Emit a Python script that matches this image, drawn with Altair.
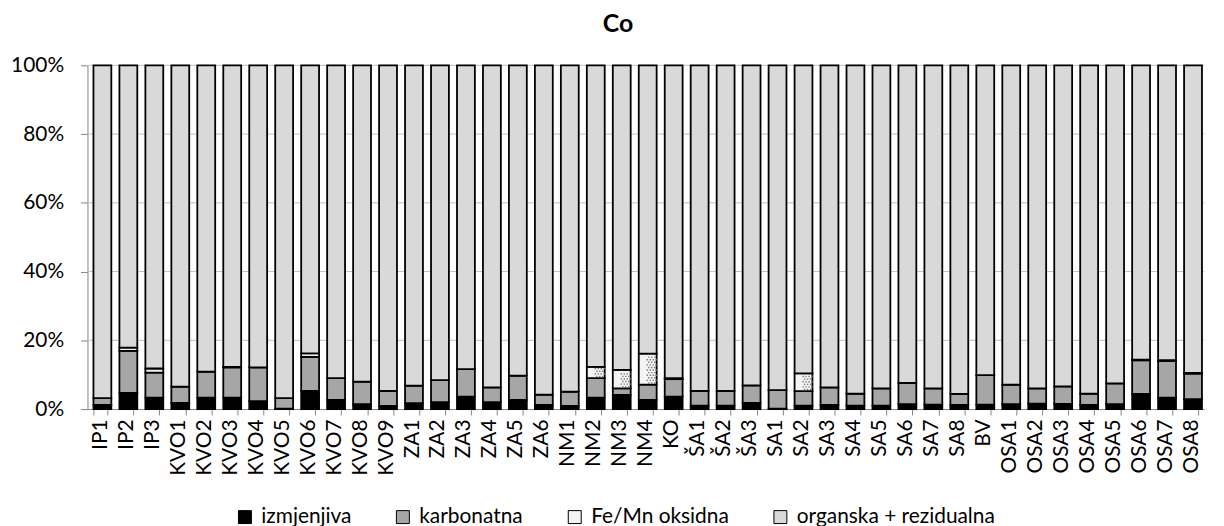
import altair as alt
import pandas as pd

categories = ["IP1", "IP2", "IP3", "KVO1", "KVO2", "KVO3", "KVO4", "KVO5", "KVO6", "KVO7", "KVO8",
              "KVO9", "ZA1", "ZA2", "ZA3", "ZA4", "ZA5", "ZA6", "NM1", "NM2", "NM3", "NM4",
              "KO", "ŠA1", "ŠA2", "ŠA3", "SA1", "SA2", "SA3", "SA4", "SA5", "SA6", "SA7",
              "SA8", "BV", "OSA1", "OSA2", "OSA3", "OSA4", "OSA5", "OSA6", "OSA7", "OSA8"]

izmjenjiva = [1.2, 4.7, 3.3, 1.8, 3.3, 3.3, 2.3, 0.1, 5.3, 2.7, 1.4,
              0.9, 1.7, 2.0, 3.6, 2.0, 2.7, 1.2, 0.9, 3.3, 4.1, 2.7,
              3.6, 1.0, 1.0, 1.8, 0.1, 1.0, 1.2, 1.0, 1.0, 1.4, 1.3,
              1.2, 1.3, 1.4, 1.6, 1.5, 1.2, 1.4, 4.4, 3.3, 2.9]

karbonatna = [2.0, 12.2, 7.3, 4.7, 7.6, 8.8, 9.8, 3.1, 9.9, 6.3, 6.6,
              4.4, 5.1, 6.4, 8.0, 4.3, 7.0, 3.0, 4.2, 5.7, 1.9, 4.4,
              5.1, 4.3, 4.3, 5.1, 5.4, 4.2, 5.1, 3.5, 5.0, 6.2, 4.7,
              3.2, 8.6, 5.7, 4.4, 5.1, 3.3, 6.1, 9.8, 10.7, 7.4]

fe_mn = [0.0, 1.0, 1.2, 0.0, 0.0, 0.2, 0.0, 0.0, 1.0, 0.0, 0.0,
         0.0, 0.0, 0.0, 0.0, 0.0, 0.0, 0.0, 0.0, 3.3, 5.4, 9.0,
         0.3, 0.0, 0.0, 0.0, 0.0, 5.2, 0.0, 0.0, 0.0, 0.0, 0.0,
         0.0, 0.0, 0.0, 0.0, 0.0, 0.0, 0.0, 0.2, 0.2, 0.2]

organska = [96.8, 82.1, 88.2, 93.5, 89.1, 87.7, 87.9, 96.8, 83.8, 91.0, 92.0,
            94.7, 93.2, 91.6, 88.4, 93.7, 90.3, 95.8, 94.9, 87.7, 88.6, 83.9,
            91.0, 94.7, 94.7, 93.1, 94.5, 89.6, 93.7, 95.5, 94.0, 92.4, 94.0,
            95.6, 90.1, 92.9, 94.0, 93.4, 95.5, 92.5, 85.6, 85.8, 89.5]

series_names = ["izmjenjiva", "karbonatna", "Fe/Mn oksidna", "organska + rezidualna"]
series_colors = ["#000000", "#a6a6a6", "#f4f4f4", "#d9d9d9"]
grid_values = [0.2, 0.4, 0.6, 0.8, 1.0]
tick_values = [0.0, 0.1, 0.2, 0.3, 0.4, 0.5, 0.6, 0.7, 0.8, 0.9, 1.0]

rows = []
for s_idx, (name, vals) in enumerate(zip(series_names, [izmjenjiva, karbonatna, fe_mn, organska])):
    for c, v in zip(categories, vals):
        rows.append({"uzorak": c, "frakcija": name, "vrijednost": v, "red": s_idx})
df = pd.DataFrame(rows)

FONT = "Lato"
FS = 21

x_enc = alt.X("uzorak:N", sort=categories, title=None,
              scale=alt.Scale(paddingInner=0.46, paddingOuter=0.23),
              axis=alt.Axis(labelAngle=-90, labelFontSize=FS, labelFont=FONT, labelColor="#000000",
                            tickBand="extent", tickSize=6, tickColor="#868686",
                            domainColor="#868686", labelPadding=4, grid=False))

bars = alt.Chart(df).mark_bar(stroke="#000000", strokeWidth=1.8).encode(
    x=x_enc,
    y=alt.Y("vrijednost:Q", stack="normalize", title=None,
            scale=alt.Scale(domain=[0, 1]),
            axis=alt.Axis(values=tick_values, grid=False, tickSize=7, tickColor="#868686",
                          domainColor="#868686", labelFontSize=FS, labelFont=FONT,
                          labelColor="#000000", labelPadding=17,
                          labelExpr="round(datum.value*10) % 2 == 0 ? format(datum.value, '.0%') : ''")),
    color=alt.Color("frakcija:N", sort=series_names,
                    scale=alt.Scale(domain=series_names, range=series_colors),
                    legend=alt.Legend(title=None, orient="none", direction="horizontal",
                                      legendX=148, legendY=444, symbolType="square",
                                      symbolSize=170, symbolStrokeColor="#000000",
                                      symbolStrokeWidth=1, labelFontSize=FS, labelFont=FONT,
                                      labelColor="#000000", columnPadding=41, labelLimit=400,
                                      labelOffset=6)),
    order=alt.Order("red:Q", sort="ascending"),
)

# dotted texture for the Fe/Mn segments, derived from the stacked data
dots = alt.Chart(df).transform_stack(
    stack="vrijednost", groupby=["uzorak"], as_=["y0", "y1"], offset="normalize",
    sort=[alt.SortField("red", order="ascending")]
).transform_filter(
    "datum.frakcija == 'Fe/Mn oksidna' && datum.y1 - datum.y0 > 0.015"
).transform_calculate(
    yy="sequence(datum.y0 + 0.005, datum.y1 - 0.004, 0.0075)"
).transform_flatten(["yy"]).transform_calculate(
    rowi="round((datum.yy - datum.y0) / 0.0075)",
).transform_calculate(
    xo="datum.rowi % 2 == 0 ? [-4.5, -1.5, 1.5, 4.5] : [-3, 0, 3]"
).transform_flatten(["xo"]).mark_square(size=2, color="#7a7a7a", opacity=1).encode(
    x=alt.X("uzorak:N", sort=categories, scale=alt.Scale(paddingInner=0.46, paddingOuter=0.23)),
    xOffset=alt.XOffset("xo:Q", scale=alt.Scale(domain=[-13.07, 13.07], range=[0, 26.14])),
    y=alt.Y("yy:Q", scale=alt.Scale(domain=[0, 1])),
)

grid_df = pd.DataFrame({"g": grid_values})
grid = alt.Chart(grid_df).mark_rule(color="#bfbfbf", strokeWidth=1).encode(
    y=alt.Y("g:Q", scale=alt.Scale(domain=[0, 1]))
)

chart = alt.layer(grid, bars, dots).properties(
    width=1124, height=346,
    autosize=alt.AutoSizeParams(type="none"),
    padding={"left": 80, "top": 56, "right": 12, "bottom": 116},
    title=alt.TitleParams("Co", fontSize=25, font=FONT, fontWeight="bold", anchor="middle",
                          dx=-28, offset=18, color="#000000"),
).configure_view(stroke=None)

chart.save("out.html", embed_options={"renderer": "svg", "actions": False})
